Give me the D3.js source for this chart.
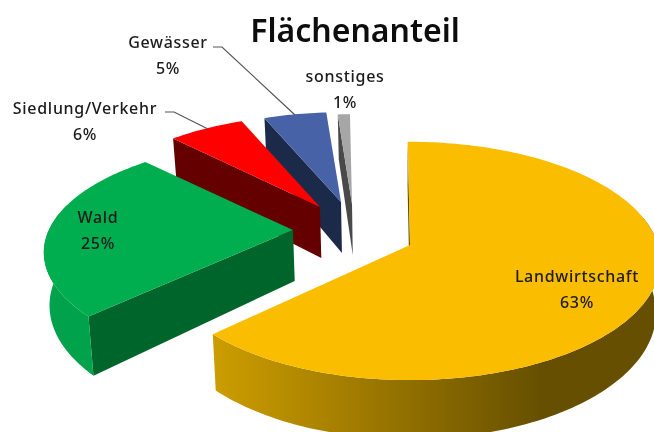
<!DOCTYPE html>
<html><head><meta charset="utf-8">
<script src="https://cdn.jsdelivr.net/npm/d3@7"></script>
<style>html,body{margin:0;padding:0;background:#fff}svg{display:block}</style>
</head><body><svg id="c" width="654" height="432"></svg>
<script>
// data
const categories = ["Landwirtschaft","Wald","Siedlung/Verkehr","Gewässer","sonstiges"];
const values = [63,25,6,5,1];
const titleText = "Flächenanteil";
// styles
const topColors  = ["#fbbd00","#00ad4f","#ff0000","#4662a6","#a6a6a6"];
const sideColors = ["#5f4c00","#00652b","#650000","#1e2a4a","#4a4a4a"];
const rimColors  = ["url(#rimGold)","#00a24b","#650000","#1e2a4a","#4a4a4a"];
// layout
const apexX = [410,293,320,341,352];
const apexY = [245,230,207,202,204];
const sliceScaleX = [0.98,0.965,0.92,0.90,0.87];
const sliceScaleY = [1,0.92,0.89,0.87,0.87];
const sliceK = [0.134,0.2,0.134,0.134,0.134];
const labelX = [577,98,85,168,345];
const labelY1 = [282,223,114,48,82];
const labelY2 = [308,249,140,74,108];
const leaderPts = [null,null,[[165,112],[174,112],[208,129]],[[213,47],[222,47],[295,115]],null];
const RX=253, RY=117, DEPTH=51, VPX=400, ROT=-0.6*Math.PI/180;

const svg=d3.select("#c");
const defs=svg.append("defs");
defs.append("filter").attr("id","soft").append("feGaussianBlur").attr("stdDeviation",0.45);
const g0=defs.append("linearGradient").attr("id","rimGold").attr("gradientUnits","userSpaceOnUse")
  .attr("x1",216).attr("x2",540).attr("y1",0).attr("y2",0);
g0.append("stop").attr("offset",0).attr("stop-color","#cc9d00");
g0.append("stop").attr("offset",0.5).attr("stop-color","#9a7600");
g0.append("stop").attr("offset",1).attr("stop-color","#665000");

const chartRoot=svg.append("g").attr("filter","url(#soft)");
const arcs=d3.pie().sort(null).startAngle(ROT).endAngle(ROT+2*Math.PI)(values);
const pathLine=d3.line();

function surfacePoint(i,a,r){
  const u=r*Math.sin(a), v=-r*Math.cos(a), s=1/(1-sliceK[i]*v);
  return {x:apexX[i]+sliceScaleX[i]*RX*u*s, y:apexY[i]+sliceScaleY[i]*RY*v*s, s};
}
function lowerPoint(p){ return [p.x+(VPX-p.x)*0.016, p.y+DEPTH*p.s]; }
const xy=p=>[p.x,p.y];
const FRONT0=Math.PI*0.42, FRONT1=Math.PI*1.58;

d3.range(values.length-1,-1,-1).forEach(i=>{
  const d=arcs[i];
  const n=Math.max(4,Math.ceil((d.endAngle-d.startAngle)/0.02));
  const angles=d3.range(n+1).map(j=>d.startAngle+(d.endAngle-d.startAngle)*j/n);
  const g=chartRoot.append("g");
  const c=surfacePoint(i,0,0), e=surfacePoint(i,d.startAngle,1);
  g.append("path").attr("d",pathLine([xy(e),lowerPoint(e),lowerPoint(c),xy(c)])+"Z")
    .attr("fill",sideColors[i]);
  const front=angles.filter(a=>a>=FRONT0&&a<=FRONT1).map(a=>surfacePoint(i,a,1));
  if(front.length>1){
    g.append("path").attr("d",pathLine(front.map(xy).concat(front.map(lowerPoint).reverse()))+"Z")
      .attr("fill",rimColors[i]);
  }
  g.append("path").attr("d",pathLine([xy(c)].concat(angles.map(a=>xy(surfacePoint(i,a,1)))))+"Z")
    .attr("fill",topColors[i]);
});

leaderPts.forEach(p=>{ if(p) chartRoot.append("path").attr("d",pathLine(p)).attr("fill","none").attr("stroke","#555").attr("stroke-width",1.2); });

const labelFont="'Noto Sans',sans-serif";
categories.forEach((c,i)=>{
  [[c,labelY1[i]],[values[i]+"%",labelY2[i]]].forEach(([t,y])=>{
    chartRoot.append("text").attr("x",labelX[i]).attr("y",y).attr("text-anchor","middle")
      .attr("font-family",labelFont).attr("font-size",16).attr("font-weight",500)
      .attr("letter-spacing",0.7).attr("fill","#1a1a1a").text(t);
  });
});
chartRoot.append("text").attr("x",355).attr("y",42).attr("text-anchor","middle")
  .attr("font-family",labelFont).attr("font-size",32).attr("font-weight",600).attr("fill","#111").text(titleText);
</script></body></html>
